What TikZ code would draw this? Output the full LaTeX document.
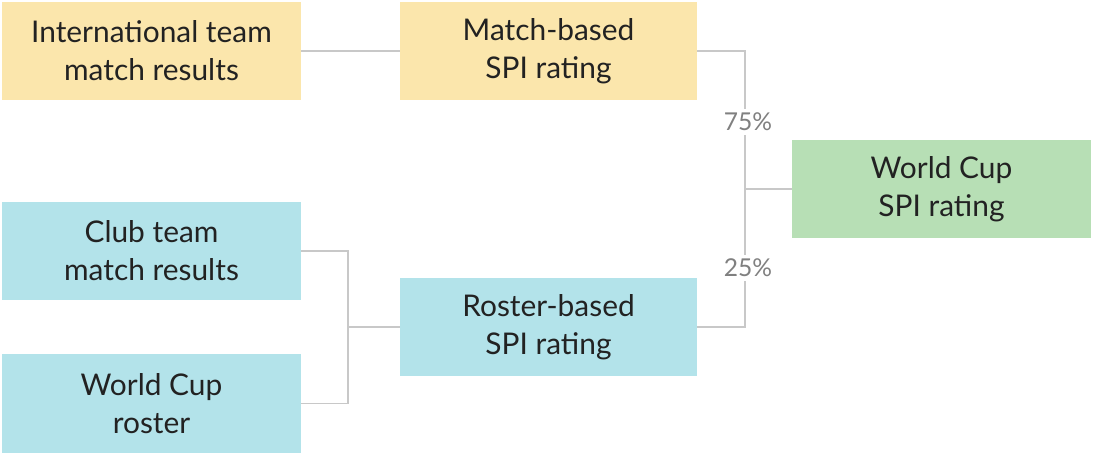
\documentclass[tikz,border=0pt]{standalone}
\usepackage{fontspec}
\setmainfont{Lato}
\usepackage{xcolor}
\usetikzlibrary{positioning}
\definecolor{spiyellow}{HTML}{FBE6AC}
\definecolor{spiblue}{HTML}{B3E3EA}
\definecolor{spigreen}{HTML}{B7DFB5}
\definecolor{spiline}{HTML}{C8C8C8}
\definecolor{spitext}{HTML}{222222}
\begin{document}
\begin{tikzpicture}[x=0.02cm,y=-0.02cm,
                box/.style = {minimum width=5.98cm, minimum height=1.96cm, align=center,
                              inner sep=0pt, font=\fontsize{17}{21.5}\selectfont, text=spitext},
                link/.style = {draw=spiline, line width=1pt},
                pct/.style = {fill=white, text=gray, inner sep=2pt, font=\fontsize{14}{16}\selectfont}]
                \useasboundingbox (0,0) rectangle (1093,454);
                \node[box, fill=spiyellow] (intl) at (151.5,51) {International team\\match results};
                \node[box, fill=spiyellow, minimum width=5.94cm] (match) at (548.5,51) {Match-based\\SPI rating};
                \node[box, fill=spiblue] (club) at (151.5,251) {Club team\\match results};
                \node[box, fill=spiblue, minimum height=1.98cm] (roster) at (151.5,403.5) {World Cup\\roster};
                \node[box, fill=spiblue, minimum width=5.94cm] (rbased) at (548.5,327) {Roster-based\\SPI rating};
                \node[box, fill=spigreen] (wc) at (941.5,189) {World Cup\\SPI rating};
                % joints
                \coordinate (jtop) at (745,51);
                \coordinate (jbot) at (745,327);
                \coordinate (jmid) at (745,189);
                \coordinate (jclub) at (348,251);
                \coordinate (jros) at (348,403.5);
                \coordinate (jin) at (348,327);
                \draw[link] (intl) -- (match);
                \draw[link] (match.east) -- (jtop) -- (jbot) -- (rbased.east);
                \draw[link] (jmid) -- (wc.west);
                \draw[link] (club.east) -- (jclub) -- (jros) -- (roster.east);
                \draw[link] (jin) -- (rbased.west);
                \node[pct] (p75) at (748,122) {75\%};
                \node[pct] (p25) at (748,268) {25\%};
            \end{tikzpicture}
\end{document}
